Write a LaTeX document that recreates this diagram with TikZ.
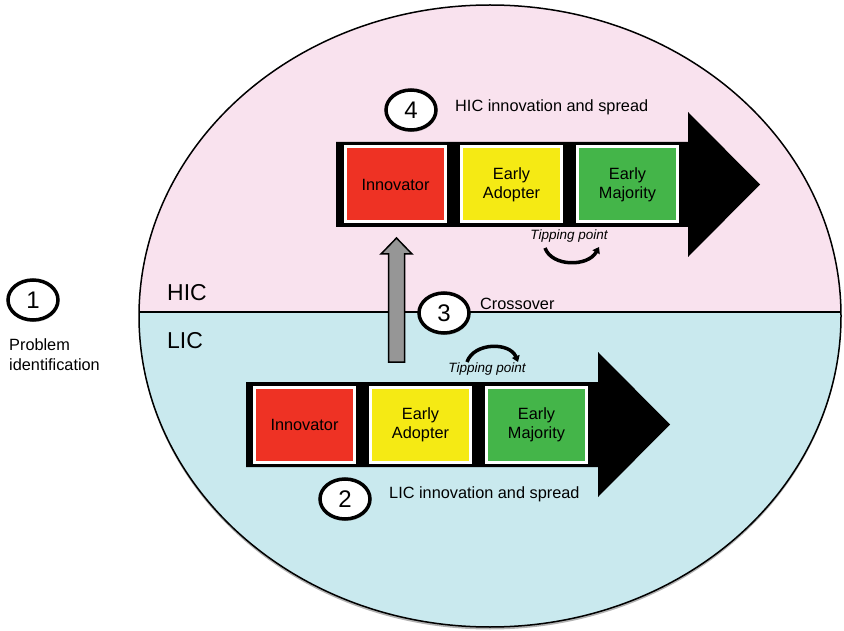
\documentclass[tikz,border=0pt]{standalone}
\usepackage{fontspec}
\setmainfont{Liberation Sans}
\usetikzlibrary{positioning,shapes.geometric,arrows.meta,shadows}
\definecolor{hicpink}{RGB}{249,226,238}
\definecolor{licblue}{RGB}{201,233,238}
\definecolor{innred}{RGB}{238,50,36}
\definecolor{adoyellow}{RGB}{245,234,20}
\definecolor{majgreen}{RGB}{68,181,73}
\definecolor{crossgray}{RGB}{150,150,150}
\tikzset{
 stage/.style={draw=white,line width=3pt,minimum width=100pt,minimum height=75pt,inner sep=0pt,align=center,font=\fontsize{16.3}{19}\selectfont},
 numb/.style={ellipse,draw,fill=white,line width=3.5pt,minimum width=50pt,minimum height=40pt,inner sep=0pt,font=\fontsize{24}{24}\selectfont,drop shadow={opacity=.35,shadow xshift=1pt,shadow yshift=-2pt}},
 caption/.style={font=\fontsize{16.3}{20}\selectfont,inner sep=0pt},
 tipping/.style={font=\fontsize{13.5}{14}\selectfont\itshape,inner sep=0pt},
 tiparrow/.style={line width=3.5pt,-{Triangle[length=6pt,width=8pt]}},
 zone/.style={font=\fontsize{23}{23}\selectfont,inner sep=0pt}
}
\begin{document}
\begin{tikzpicture}[x=1pt,y=-1pt]
 \useasboundingbox (0,0) rectangle (844,631);
 \fill[black!30] (490,318.5) ellipse [x radius=351,y radius=311];
 \begin{scope}
  \clip (490,316) ellipse [x radius=351,y radius=311];
  \fill[hicpink] (130,0) rectangle (844,312);
  \fill[licblue] (130,312) rectangle (844,631);
  \draw[line width=1.5pt] (130,312) -- (844,312);
 \end{scope}
 \draw[line width=1.5pt] (490,316) ellipse [x radius=351,y radius=311];
 \node[zone] (hic) at (187,293) {HIC};
 \node[zone] (lic) at (185,341) {LIC};
 \coordinate (xfoot) at (396.5,362);
 \draw[fill=crossgray,line width=1.5pt,line join=miter] (xfoot) ++(-8,0) -- ++(0,-108) -- ++(-7.5,0) -- ++(15.5,-16) -- ++(15.5,16) -- ++(-7.5,0) -- ++(0,108) -- cycle;
 \fill (336,142) -- (688,142) -- (688,112) -- (760,184.5) -- (688,257) -- (688,227) -- (336,227) -- cycle;
 \fill (246,382) -- (598,382) -- (598,352) -- (670,424.5) -- (598,497) -- (598,467) -- (246,467) -- cycle;
 \node[stage,fill=innred] (hinn) at (395.5,184.5) {Innovator};
 \node[stage,fill=adoyellow,right=13pt of hinn] (hado) {Early\\Adopter};
 \node[stage,fill=majgreen,right=13pt of hado] (hmaj) {Early\\Majority};
 \node[stage,fill=innred] (linn) at (304.5,424.5) {Innovator};
 \node[stage,fill=adoyellow,right=13pt of linn] (lado) {Early\\Adopter};
 \node[stage,fill=majgreen,right=13pt of lado] (lmaj) {Early\\Majority};
 \node[numb] (n1) at (33,300) {1};
 \node[numb] (n2) at (345,499) {2};
 \node[numb] (n3) at (444,313) {3};
 \node[numb] (n4) at (411,110) {4};
 \node[caption,anchor=north west,align=left] (t1) at (9,338) {Problem\\identification};
 \node[caption,anchor=base west] (t2) at (389,498) {LIC innovation and spread};
 \node[caption,anchor=base west] (t3) at (480,309) {Crossover};
 \node[caption,anchor=base west] (t4) at (455,112) {HIC innovation and spread};
 \node[tipping,anchor=base] (tph) at (569,240) {Tipping point};
 \node[tipping,anchor=base] (tpl) at (487,372) {Tipping point};
 \coordinate (th1) at (545,248);
 \coordinate (th2) at (599,247);
 \coordinate (tl1) at (467,362);
 \coordinate (tl2) at (518,362);
 \draw[tiparrow] (th1) .. controls (552,267) and (588,267) .. (th2);
 \draw[tiparrow] (tl1) .. controls (474,342) and (510,342) .. (tl2);
\end{tikzpicture}
\end{document}
